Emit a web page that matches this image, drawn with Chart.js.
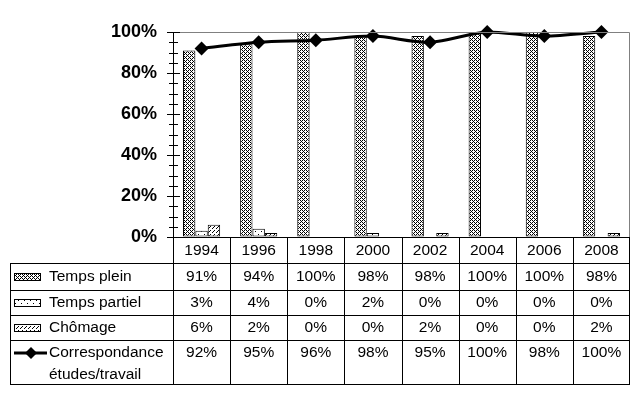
<!DOCTYPE html>
<html>
<head>
<meta charset="utf-8">
<script src="https://cdn.jsdelivr.net/npm/chart.js@4/dist/chart.umd.min.js"></script>
<style>
  html, body { margin: 0; padding: 0; background: #fff; }
  canvas { display: block; }
</style>
</head>
<body>
<canvas id="ChartElem" width="639" height="399"></canvas>
<script>
// values
var years = ['1994', '1996', '1998', '2000', '2002', '2004', '2006', '2008'];
var tempsPlein = [91, 94, 100, 98, 98, 100, 100, 98];
var tempsPartiel = [3, 4, 0, 2, 0, 0, 0, 0];
var chomage = [6, 2, 0, 0, 2, 0, 0, 2];
var correspondance = [92, 95, 96, 98, 95, 100, 98, 100];
var seriesNames = ['Temps plein', 'Temps partiel', 'Chômage', ['Correspondance', 'études/travail']];

var canvas = document.getElementById('ChartElem');
var ctx = canvas.getContext('2d');

function MakePattern(w, h, dots) {
    var c = document.createElement('canvas');
    c.width = w; c.height = h;
    var pc = c.getContext('2d');
    pc.fillStyle = '#fff';
    pc.fillRect(0, 0, w, h);
    pc.fillStyle = '#000';
    for (var i = 0; i < dots.length; i++) {
        pc.fillRect(dots[i][0], dots[i][1], 1, 1);
    }
    return ctx.createPattern(c, 'repeat');
}

var pleinFill = MakePattern(4, 4, [[0, 0], [2, 0], [0, 2], [2, 2], [1, 1], [3, 3]]);
var partielFill = MakePattern(6, 6, [[0, 0], [3, 3]]);
var chomageFill = MakePattern(4, 4, [[0, 0], [2, 2], [1, 3]]);

// table rows (top, bottom) under the plot
var rowLines = [237, 263, 290, 315, 340, 384];
var tableLeft = 10;

var tablePlugin = {
    id: 'dataTable',
    afterDraw: function (chart) {
        var c = chart.ctx;
        var ca = chart.chartArea;
        var xs = chart.scales.x;
        var ys = chart.scales.y;
        var colW = (ca.right - ca.left) / years.length;
        c.save();

        // grey frame top/right
        c.strokeStyle = '#808080';
        c.lineWidth = 1;
        c.beginPath();
        c.moveTo(ca.left, Math.round(ca.top) + 0.5);
        c.lineTo(Math.round(ca.right) - 0.5, Math.round(ca.top) + 0.5);
        c.lineTo(Math.round(ca.right) - 0.5, rowLines[0]);
        c.stroke();

        // tick marks crossing the axis
        c.strokeStyle = '#000';
        c.beginPath();
        for (var v = 0; v <= 100; v += 5) {
            var py = Math.round(ys.getPixelForValue(v)) + 0.5;
            var len = (v % 20 === 0) ? 6 : 4;
            c.moveTo(ca.left - len, py);
            c.lineTo(ca.left + len + 1, py);
        }
        c.stroke();

        // table grid
        c.beginPath();
        for (var r = 0; r < rowLines.length; r++) {
            var sx = r === 0 ? ca.left : tableLeft;
            c.moveTo(sx, rowLines[r] + 0.5);
            c.lineTo(ca.right, rowLines[r] + 0.5);
        }
        c.moveTo(tableLeft + 0.5, rowLines[1]);
        c.lineTo(tableLeft + 0.5, rowLines[5] + 1);
        for (var k = 0; k <= years.length; k++) {
            var lx = Math.round(ca.left + k * colW) - (k === years.length ? 0.5 : -0.5);
            c.moveTo(lx, rowLines[0]);
            c.lineTo(lx, rowLines[5] + 1);
        }
        c.stroke();

        // texts
        c.fillStyle = '#000';
        c.font = '15.5px "Liberation Sans", Arial, sans-serif';
        c.textBaseline = 'middle';
        c.textAlign = 'center';
        var series = [tempsPlein, tempsPartiel, chomage, correspondance];
        var rowText = [277, 303, 328, 353];
        for (var i = 0; i < years.length; i++) {
            var cx = xs.getPixelForValue(i);
            c.fillText(years[i], cx, 251);
            for (var s = 0; s < series.length; s++) {
                c.fillText(series[s][i] + '%', cx, rowText[s]);
            }
        }

        // legend keys + names
        c.textAlign = 'left';
        var fills = [pleinFill, partielFill, chomageFill];
        for (var s2 = 0; s2 < 3; s2++) {
            var ky = rowText[s2] - 4;
            c.fillStyle = fills[s2];
            c.fillRect(14, ky, 26, 8);
            c.strokeStyle = '#000';
            c.strokeRect(14.5, ky + 0.5, 26, 7);
            c.fillStyle = '#000';
            c.fillText(seriesNames[s2], 49, rowText[s2]);
        }
        var ly = rowText[3];
        c.lineWidth = 3;
        c.beginPath();
        c.moveTo(14, ly);
        c.lineTo(47, ly);
        c.stroke();
        c.beginPath();
        c.moveTo(31, ly - 6);
        c.lineTo(37, ly);
        c.lineTo(31, ly + 6);
        c.lineTo(25, ly);
        c.closePath();
        c.fill();
        c.fillText(seriesNames[3][0], 49, ly);
        c.fillText(seriesNames[3][1], 49, 375);

        c.restore();
    }
};

var chart = new Chart(ctx, {
    type: 'bar',
    data: {
        labels: years,
        datasets: [
            {
                type: 'line',
                label: 'Correspondance études/travail',
                data: correspondance,
                borderColor: '#000',
                backgroundColor: '#000',
                borderWidth: 3,
                tension: 0.3,
                pointStyle: 'rectRot',
                pointRadius: 7,
                pointBackgroundColor: '#000',
                pointBorderColor: '#000',
                pointBorderWidth: 0,
                clip: false,
                order: 0
            },
            {
                label: 'Temps plein',
                data: tempsPlein,
                backgroundColor: pleinFill,
                borderColor: '#000',
                borderWidth: 1,
                borderSkipped: false,
                order: 1
            },
            {
                label: 'Temps partiel',
                data: tempsPartiel,
                backgroundColor: partielFill,
                borderColor: '#000',
                borderWidth: 1,
                borderSkipped: false,
                order: 1
            },
            {
                label: 'Chômage',
                data: chomage,
                backgroundColor: chomageFill,
                borderColor: '#000',
                borderWidth: 1,
                borderSkipped: false,
                order: 1
            }
        ]
    },
    options: {
        responsive: false,
        animation: false,
        events: [],
        layout: { padding: { left: 0, top: 32, right: 9, bottom: 162 } },
        datasets: {
            bar: { categoryPercentage: 0.65, barPercentage: 1 }
        },
        plugins: {
            legend: { display: false },
            tooltip: { enabled: false },
            title: { display: false }
        },
        scales: {
            x: {
                display: false,
                offset: true
            },
            y: {
                min: 0,
                max: 100,
                afterFit: function (scale) { scale.width = 173; },
                border: { display: true, color: '#000', width: 1 },
                grid: { display: true, drawOnChartArea: false, drawTicks: false, color: 'rgba(0,0,0,0)' },
                ticks: {
                    stepSize: 20,
                    padding: 16,
                    color: '#000',
                    font: { family: '"Liberation Sans", Arial, sans-serif', size: 18, weight: 'bold' },
                    callback: function (v) { return v + '%'; }
                }
            }
        }
    },
    plugins: [tablePlugin]
});
</script>
</body>
</html>
